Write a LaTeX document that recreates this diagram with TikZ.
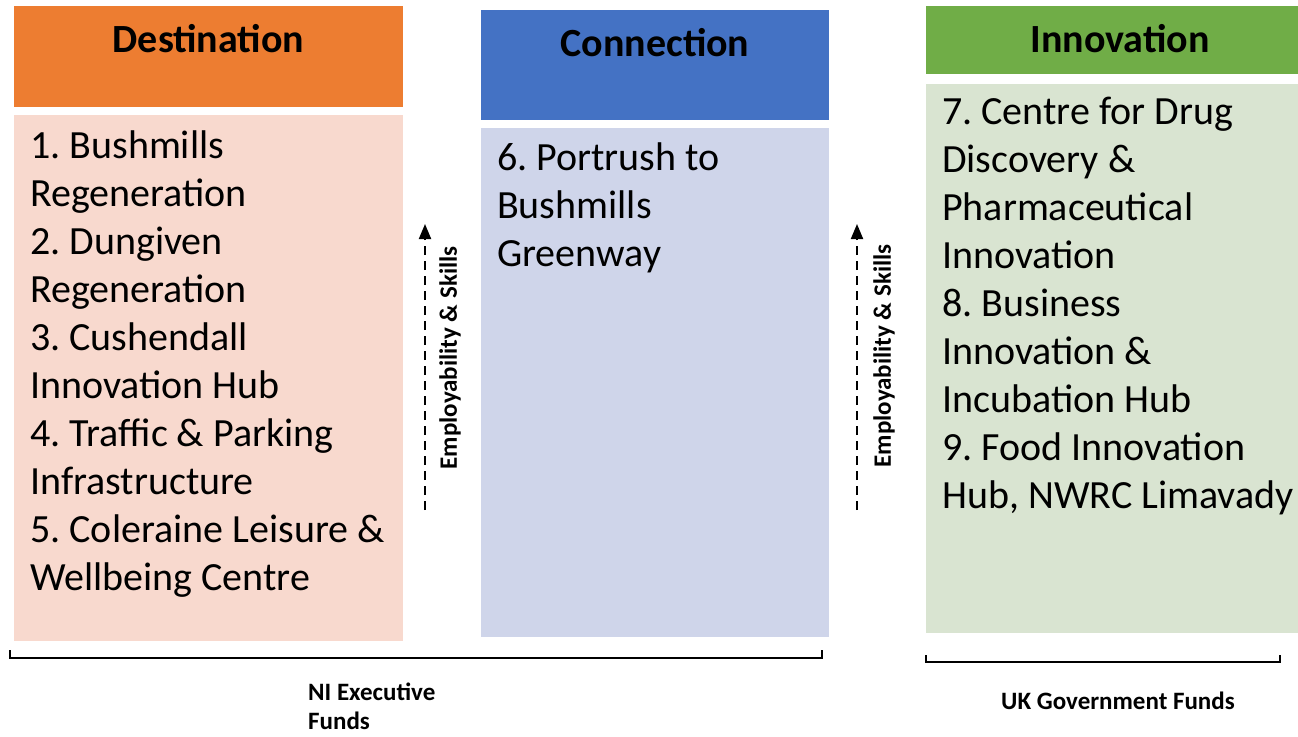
\documentclass[tikz,border=0pt]{standalone}
\usepackage{fontspec}
\setmainfont{Carlito}
\frenchspacing
\usetikzlibrary{arrows.meta}
\definecolor{orangeH}{HTML}{ED7D31}
\definecolor{orangeB}{HTML}{F8D9CE}
\definecolor{blueH}{HTML}{4472C4}
\definecolor{blueB}{HTML}{CFD5EA}
\definecolor{greenH}{HTML}{70AD47}
\definecolor{greenB}{HTML}{D9E4D1}
\tikzset{
  box/.style={draw=none, inner sep=0pt, anchor=north west},
  title/.style={font=\fontsize{40}{48}\selectfont\bfseries, inner sep=0pt, anchor=base},
  bodytext/.style={font=\fontsize{40}{48}\selectfont, align=left, inner sep=0pt, anchor=base west},
  sidelabel/.style={font=\fontsize{25}{30}\selectfont\bfseries, rotate=90, inner sep=0pt},
  dasharrow/.style={dash pattern=on 9pt off 6pt, line width=2pt, -{Triangle[length=15pt,width=12pt]}},
  brace/.style={line width=2.4pt},
  fundlabel/.style={font=\fontsize{25}{29}\selectfont\bfseries, inner sep=0pt, align=left}
}
\begin{document}
\begin{tikzpicture}[x=1pt,y=-1pt]
\useasboundingbox (0,0) rectangle (1298,736);
% Destination
\node[box, fill=orangeH, minimum width=389pt, minimum height=101pt] (dh) at (14,6) {};
\node[title] (dt) at (208.5,52) {Destination};
\node[box, fill=orangeB, minimum width=389pt, minimum height=526pt] (db) at (14,115) {};
\node[bodytext] (dx) at (30,590) {1. Bushmills\\Regeneration\\2. Dungiven\\Regeneration\\3. Cushendall\\Innovation Hub\\4. Traffic \& Parking\\Infrastructure\\5. Coleraine Leisure \&\\Wellbeing Centre};
% Connection
\node[box, fill=blueH, minimum width=348pt, minimum height=110pt] (ch) at (481,10) {};
\node[title] (ct) at (655,56) {Connection};
\node[box, fill=blueB, minimum width=348pt, minimum height=509pt] (cb) at (481,128) {};
\node[bodytext] (cx) at (497,266) {6. Portrush to\\Bushmills\\Greenway};
% Innovation
\node[box, fill=greenH, minimum width=372pt, minimum height=68pt] (ih) at (926,6) {};
\node[title] (it) at (1120,52) {Innovation};
\node[box, fill=greenB, minimum width=372pt, minimum height=549pt] (ib) at (926,84) {};
\node[bodytext] (ix) at (942,508) {7. Centre for Drug\\Discovery \&\\Pharmaceutical\\Innovation\\8. Business\\Innovation \&\\Incubation Hub\\9. Food Innovation\\Hub, NWRC Limavady};
% arrows
\coordinate (a1s) at (425,510);
\coordinate (a1e) at (425,224);
\draw[dasharrow] (a1s) -- (a1e);
\node[sidelabel] (l1) at (450,358) {Employability \& Skills};
\coordinate (a2s) at (857,510);
\coordinate (a2e) at (857,224);
\draw[dasharrow] (a2s) -- (a2e);
\node[sidelabel] (l2) at (884,356) {Employability \& Skills};
% brackets
\coordinate (b1a) at (10,650);
\coordinate (b1b) at (822,650);
\draw[brace] (b1a) -- ++(0,8) -| (b1b);
\coordinate (b2a) at (926,655);
\coordinate (b2b) at (1280,655);
\draw[brace] (b2a) -- ++(0,7) -| (b2b);
\node[fundlabel, anchor=base west] (f1) at (308,729) {NI Executive\\Funds};
\node[fundlabel, anchor=base] (f2) at (1118,709) {UK Government Funds};
\end{tikzpicture}
\end{document}
